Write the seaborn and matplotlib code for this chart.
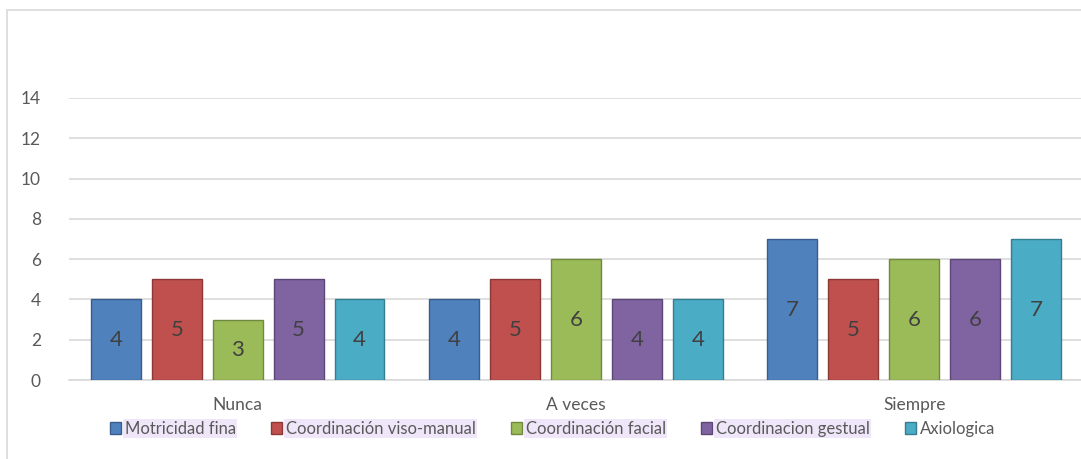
import matplotlib
matplotlib.use("Agg")
import matplotlib.pyplot as plt
import seaborn as sns
import pandas as pd
from matplotlib.patches import Rectangle

categories = ["Nunca", "A veces", "Siempre"]
series = ["Motricidad fina", "Coordinación viso-manual", "Coordinación facial",
          "Coordinacion gestual", "Axiologica"]
motricidad = [4, 4, 7]
viso_manual = [5, 5, 5]
facial = [3, 6, 6]
gestual = [5, 4, 6]
axiologica = [4, 4, 7]
yticks = [0, 2, 4, 6, 8, 10, 12, 14]

colors = ["#4F81BD", "#C0504D", "#9BBB59", "#8064A2", "#4BACC6"]
edges = ["#385D8A", "#8C3836", "#71893F", "#5C4776", "#357D91"]

rows = []
for s, vals in zip(series, [motricidad, viso_manual, facial, gestual, axiologica]):
    for c, v in zip(categories, vals):
        rows.append({"cat": c, "serie": s, "val": v})
df = pd.DataFrame(rows)

sns.set_theme(style="white")
plt.rcParams['font.family'] = ['Lato', 'DejaVu Sans']

fig = plt.figure(figsize=(10.81, 4.59), dpi=100)
ax = fig.add_axes([0.0635, 0.172, 0.9386, 0.6145])

sns.barplot(data=df, x="cat", y="val", hue="serie", order=categories,
            hue_order=series, palette=colors, width=0.9, gap=0.18,
            legend=False, ax=ax, zorder=3, saturation=1)

for i, cont in enumerate(ax.containers):
    for p in cont.patches:
        p.set_edgecolor(edges[i])
        p.set_linewidth(1.0)
    ax.bar_label(cont, label_type="center", fontsize=16, color="#404040")

ax.set_ylim(0, 14)
ax.set_xlim(-0.5, 2.5)
ax.set_yticks(yticks)
ax.set_yticklabels([str(t) for t in yticks], fontsize=12.5, color="#595959")
ax.tick_params(axis="x", labelsize=12.5, labelcolor="#595959", pad=12, length=0)
ax.tick_params(axis="y", length=0, pad=20)
ax.set_xlabel("")
ax.set_ylabel("")
ax.grid(axis="y", color="#D9D9D9", linewidth=1.2, zorder=0)
for side in ["top", "right", "left"]:
    ax.spines[side].set_visible(False)
ax.spines["bottom"].set_color("#D9D9D9")
ax.spines["bottom"].set_linewidth(1.2)

# legend
handles = [Rectangle((0, 0), 1, 1, facecolor=c, edgecolor=e) for c, e in zip(colors, edges)]
leg = fig.legend(handles, series, loc="center", bbox_to_anchor=(0.511, 0.066), ncol=5,
                 frameon=False, fontsize=12, handlelength=0.7, handleheight=0.7,
                 handletextpad=0.2, columnspacing=2.1, labelcolor="#595959")
for t in leg.get_texts()[:4]:
    t.set_bbox(dict(facecolor="#EFE7F9", edgecolor="none", pad=1))

# outer chart border
fig.patches.append(Rectangle((7 / 1081, -0.05), 1.1, 1 - 10 / 459 + 0.05,
                             transform=fig.transFigure, fill=False,
                             edgecolor="#D9D9D9", linewidth=1.2))

fig.savefig("out.png", dpi=100)
